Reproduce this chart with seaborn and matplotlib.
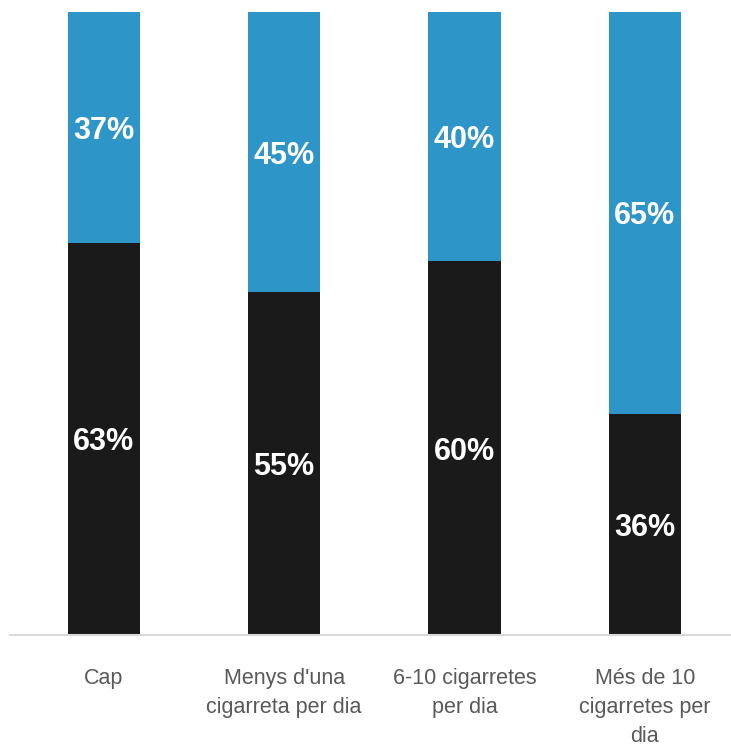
import matplotlib
matplotlib.use("Agg")
import matplotlib.pyplot as plt
import seaborn as sns
import pandas as pd

# categories and shares (%)
categories = ["Cap", "Menys d'una\ncigarreta per dia", "6-10 cigarretes\nper dia",
              "Més de 10\ncigarretes per\ndia"]
black_share = [63, 55, 60, 35.5]
blue_share = [37, 45, 40, 64.5]

df = pd.DataFrame({"cat": categories, "black": black_share, "blue": blue_share})
df["total"] = df["black"] + df["blue"]

sns.set_style("white")
plt.rcParams["font.family"] = ["Liberation Sans", "DejaVu Sans"]

fig = plt.figure(figsize=(7.31, 7.5), dpi=100)
ax = fig.add_axes([10 / 731, 1 - 635 / 750, 725 / 731, 623 / 750])

# blue on the full height, black over it
sns.barplot(data=df, x="cat", y="total", color="#2E95C8", width=0.4,
            saturation=1, linewidth=0, ax=ax)
sns.barplot(data=df, x="cat", y="black", color="#1A1A1A", width=0.4,
            saturation=1, linewidth=0, ax=ax)

for i, row in df.iterrows():
    ax.text(i, row["black"] / 2, f"{int(row['black'] + 0.5)}%", ha="center",
            va="center_baseline", color="white", fontsize=22, fontweight="bold")
    ax.text(i, row["black"] + row["blue"] / 2, f"{int(row['blue'] + 0.5)}%",
            ha="center", va="center_baseline", color="white", fontsize=22,
            fontweight="bold")

ax.set_ylim(0, 100)
ax.set_xlim(-0.52, 3.5)
ax.set_xlabel("")
ax.set_ylabel("")
ax.set_yticks([])
ax.set_xticks(range(len(categories)))
ax.set_xticklabels(categories, fontsize=15.5, color="#595959", linespacing=1.5)
ax.tick_params(axis="x", length=0, pad=24)
for s in ["top", "left", "right"]:
    ax.spines[s].set_visible(False)
ax.spines["bottom"].set_color("#D9D9D9")
ax.spines["bottom"].set_linewidth(1.5)

fig.savefig("out.png", dpi=100)
